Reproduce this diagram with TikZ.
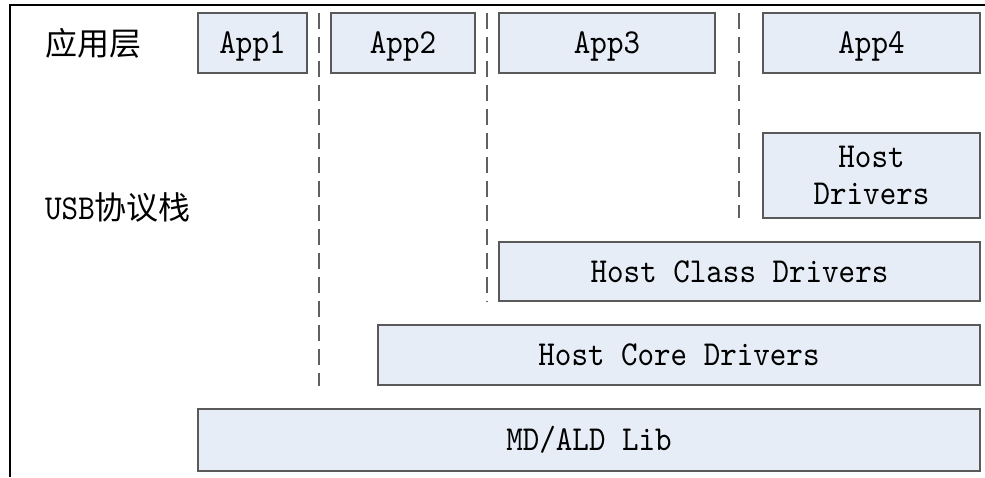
\documentclass[tikz,border=0pt]{standalone}
\usepackage{fontspec}
\setmonofont{lmmono10-regular.otf}[FakeStretch=0.9]
\newfontfamily\cjk{Noto Sans CJK SC}
\definecolor{boxfill}{HTML}{E6EDF7}
\definecolor{boxline}{HTML}{595959}
\definecolor{sepline}{HTML}{606060}
\tikzset{
  layerbox/.style={draw=boxline, fill=boxfill, line width=1.3pt, inner sep=0pt,
    font=\ttfamily\fontsize{35}{37}\selectfont, align=center,
    text height=21.4pt, text depth=0pt},
  sep/.style={draw=sepline, line width=1.3pt, dash pattern=on 16pt off 8pt},
  layername/.style={anchor=west, inner sep=0pt, font=\fontsize{32}{37}\selectfont},
  frame/.style={line width=2.6pt, black}
}
\begin{document}
\begin{tikzpicture}[x=1pt,y=-1pt]
  \useasboundingbox (0,0) rectangle (985,477);
  % outer frame, open on the right and at the bottom
  \coordinate (fbl) at (10,477);
  \coordinate (ftl) at (10,5);
  \coordinate (ftr) at (985,5);
  \draw[frame] (fbl) -- (ftl) -- (ftr);

  % layer names
  \node[layername] (applayer) at (45,43) {\cjk 应用层};
  \node[layername] (usbstack) at (45,207) {{\ttfamily\fontsize{35}{37}\selectfont USB}\cjk 协议栈};

  % application boxes
  \node[layerbox, minimum width=109pt, minimum height=60pt] (app1) at (252.5,43) {App1};
  \node[layerbox, minimum width=144pt, minimum height=60pt] (app2) at (403,43) {App2};
  \node[layerbox, minimum width=216pt, minimum height=60pt] (app3) at (607,43) {App3};
  \node[layerbox, minimum width=217pt, minimum height=60pt] (app4) at (871.5,43) {App4};

  % driver stack
  \node[layerbox, minimum width=217pt, minimum height=85pt, text height=58.4pt]
    (hostdrv) at (871.5,175.5) {Host\\Drivers};
  \node[layerbox, minimum width=481pt, minimum height=59pt] (hostclass) at (739.5,271.5) {Host Class Drivers};
  \node[layerbox, minimum width=602pt, minimum height=60pt] (hostcore) at (679,355) {Host Core Drivers};
  \node[layerbox, minimum width=782pt, minimum height=62pt] (mdald) at (589,440) {MD/ALD Lib};

  % dashed separators between the application columns
  \coordinate (s1top) at (319,13);
  \coordinate (s1bot) at (319,386);
  \coordinate (s2top) at (487,13);
  \coordinate (s2bot) at (487,302);
  \coordinate (s3top) at (739,13);
  \coordinate (s3bot) at (739,218);
  \draw[sep] (s1top) -- (s1bot);
  \draw[sep] (s2top) -- (s2bot);
  \draw[sep] (s3top) -- (s3bot);
\end{tikzpicture}
\end{document}
